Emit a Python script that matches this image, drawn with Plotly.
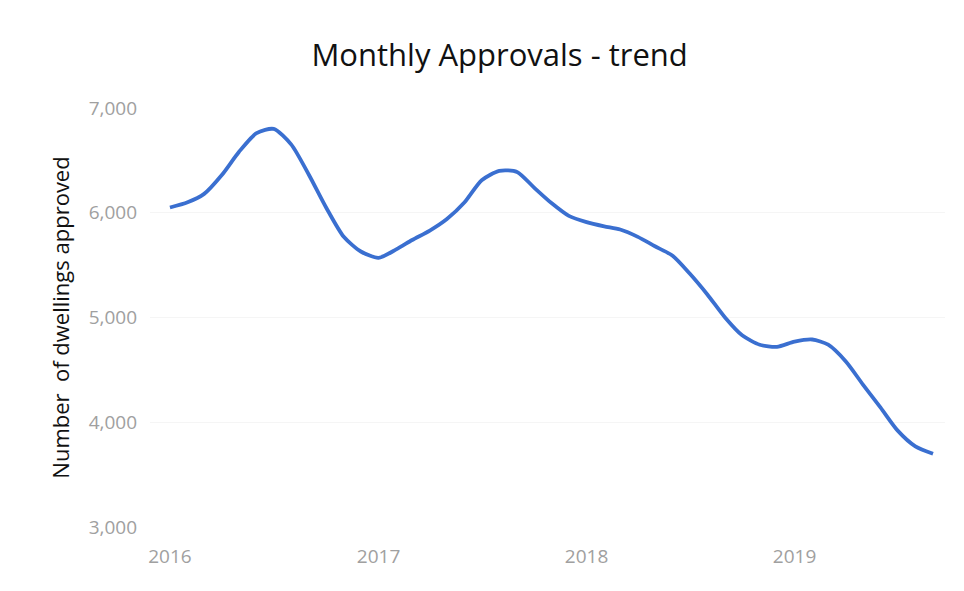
import plotly.graph_objects as go
import pandas as pd

months = pd.date_range("2016-01-01", "2019-09-01", freq="MS").strftime("%Y-%m-%d").tolist()
approvals = [6050, 6100, 6180, 6360, 6580, 6760, 6800, 6650, 6360, 6050,
             5770, 5630, 5570, 5650, 5740, 5830, 5940, 6100, 6310, 6400,
             6390, 6240, 6090, 5970, 5910, 5870, 5840, 5770, 5680, 5590,
             5420, 5220, 5000, 4830, 4740, 4720, 4770, 4790, 4740, 4580,
             4360, 4140, 3920, 3770, 3700]
year_ticks = ["2016-01-01", "2017-01-01", "2018-01-01", "2019-01-01"]
year_labels = ["2016", "2017", "2018", "2019"]
y_ticks = [3000, 4000, 5000, 6000, 7000]

fig = go.Figure()
fig.add_trace(go.Scatter(
    x=months, y=approvals, mode="lines",
    line=dict(color="#3a6fd0", width=3.8, shape="spline", smoothing=0.7),
    showlegend=False,
))

fig.update_layout(
    width=964, height=591,
    margin=dict(l=142, r=27, t=100, b=72),
    paper_bgcolor="white", plot_bgcolor="white",
    title=dict(text="Monthly Approvals - trend", x=0.51, xanchor="center",
               y=0.921, yanchor="middle",
               font=dict(family="Open Sans", size=31, color="#111111")),
    font=dict(family="Open Sans"),
)
fig.update_xaxes(
    type="date", range=["2015-11-27", "2019-09-22"],
    tickvals=year_ticks, ticktext=year_labels,
    showgrid=False, zeroline=False, showline=False,
    ticks="", ticklabelstandoff=16,
    tickfont=dict(family="Open Sans", size=19, color="#a0a0a0"),
)
fig.update_yaxes(
    range=[3000, 7000], tickvals=y_ticks,
    tickformat=",d",
    showgrid=True, gridcolor="#f5f5f5", zeroline=False, showline=False,
    ticks="", ticklabelstandoff=12,
    tickfont=dict(family="Open Sans", size=19, color="#a0a0a0"),
    title=dict(text="Number  of dwellings approved", standoff=12,
               font=dict(family="Open Sans", size=22, color="#111111")),
)

fig.write_html("out.html")
